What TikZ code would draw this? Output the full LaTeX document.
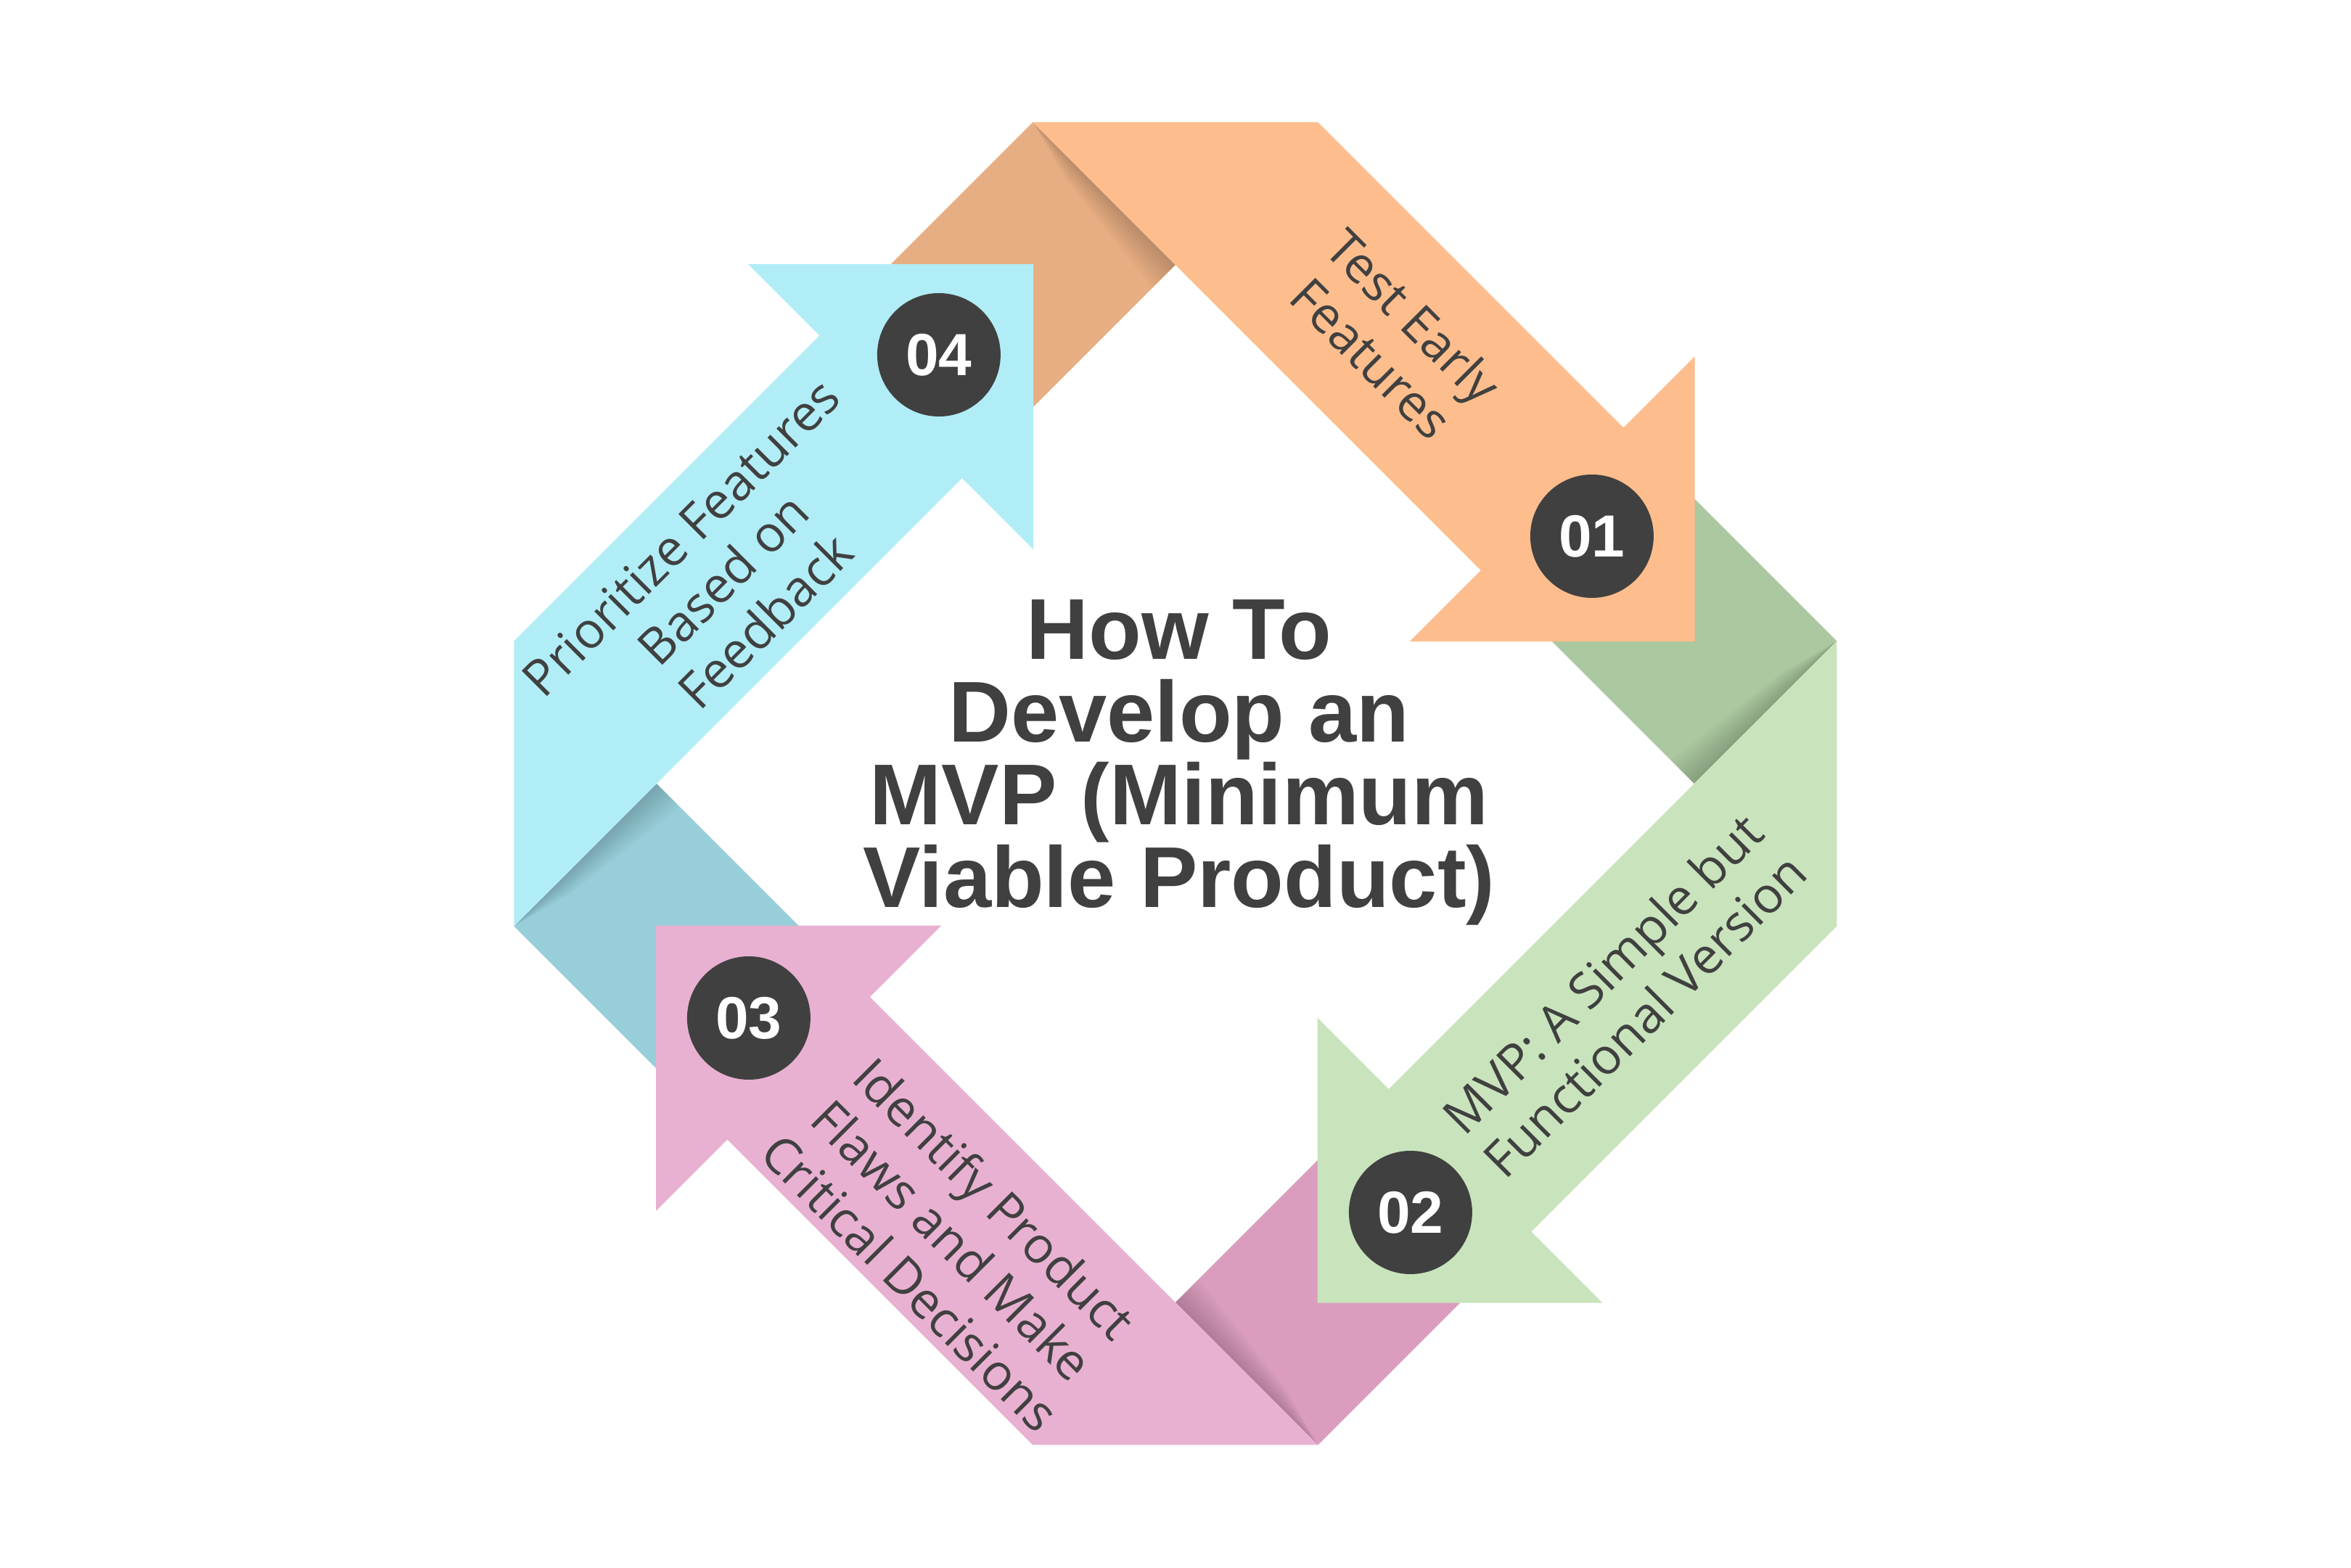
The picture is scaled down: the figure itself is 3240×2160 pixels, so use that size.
\documentclass[tikz,border=0pt]{standalone}
\usepackage{fontspec}
\setmainfont{Open Sans}
\newfontfamily\titlefont{Liberation Sans}
\definecolor{cO}{HTML}{FEBD8D}
\definecolor{cOd}{HTML}{E8AE83}
\definecolor{cG}{HTML}{C9E4BC}
\definecolor{cGd}{HTML}{ABC8A0}
\definecolor{cP}{HTML}{E8B1D1}
\definecolor{cPd}{HTML}{DA9DBE}
\definecolor{cB}{HTML}{B1EDF6}
\definecolor{cBd}{HTML}{97CED9}
\definecolor{ink}{HTML}{404040}
\def\pA{715}\def\pB{1108}\def\pH{196.5}\def\pC{911.5}\def\pW{393}\def\pT{520}\def\pS{127}
\begin{document}
\begin{tikzpicture}[x=0.1pt,y=-0.1pt,
  txt/.style={font=\fontsize{6.9}{8.2}\selectfont, text=ink, align=center, inner sep=0pt},
  num/.style={circle, fill=ink, minimum size=17pt, inner sep=0pt, text=white,
              font=\titlefont\bfseries\fontsize{8.2}{8.2}\selectfont},
  ttl/.style={font=\titlefont\bfseries\fontsize{11.9}{11.4}\selectfont, text=ink, inner sep=0pt, anchor=base},
  shadowc/.style={black, opacity=0.022}]
\useasboundingbox (0,0) rectangle (3240,2160);
\fill[white] (0,0) rectangle (3240,2160);
\begin{scope}[shift={(162pt,-108pt)}, x={(0.05pt,0.05pt)}, y={(0.05pt,-0.05pt)}]
  % folds
  \fill[cOd] ({\pA},{-\pB}) -- ({\pA},{-\pA}) -- ({\pA-\pW},{-\pA}) -- ({\pA-\pW},{-\pB}) -- cycle;
  \fill[cGd] ({\pB},{\pA}) -- ({\pA},{\pA}) -- ({\pA},{\pA-\pW}) -- ({\pB},{\pA-\pW}) -- cycle;
  \fill[cPd] ({-\pA},{\pB}) -- ({-\pA},{\pA}) -- ({-\pA+\pW},{\pA}) -- ({-\pA+\pW},{\pB}) -- cycle;
  \fill[cBd] ({-\pB},{-\pA}) -- ({-\pA},{-\pA}) -- ({-\pA},{-\pA+\pW}) -- ({-\pB},{-\pA+\pW}) -- cycle;
  % fold shadows
  \foreach \s in {8,16,...,64}{
    \fill[shadowc] ({\pA},{-\pB}) -- ({\pA},{-\pA}) -- ({\pA-\s},{-\pA}) -- ({\pA-0.5*\s},{-\pB+120}) -- cycle;
    \fill[shadowc] ({\pB},{\pA}) -- ({\pA},{\pA}) -- ({\pA},{\pA-\s}) -- ({\pB-120},{\pA-0.5*\s}) -- cycle;
    \fill[shadowc] ({-\pA},{\pB}) -- ({-\pA},{\pA}) -- ({-\pA+\s},{\pA}) -- ({-\pA+0.5*\s},{\pB-120}) -- cycle;
    \fill[shadowc] ({-\pB},{-\pA}) -- ({-\pA},{-\pA}) -- ({-\pA},{-\pA+\s}) -- ({-\pB+120},{-\pA+0.5*\s}) -- cycle;
  }
  % arrows
  \fill[cO] ({\pA},{-\pB}) -- ({\pB},{-\pA}) -- ({\pB},{\pS}) -- ({\pB+\pH},{\pS}) -- ({\pC},{\pT})
     -- ({\pA-\pH},{\pS}) -- ({\pA},{\pS}) -- ({\pA},{-\pA}) -- cycle;
  \fill[cG] ({\pB},{\pA}) -- ({\pA},{\pB}) -- ({-\pS},{\pB}) -- ({-\pS},{\pB+\pH}) -- ({-\pT},{\pC})
     -- ({-\pS},{\pA-\pH}) -- ({-\pS},{\pA}) -- ({\pA},{\pA}) -- cycle;
  \fill[cP] ({-\pA},{\pB}) -- ({-\pB},{\pA}) -- ({-\pB},{-\pS}) -- ({-\pB-\pH},{-\pS}) -- ({-\pC},{-\pT})
     -- ({-\pA+\pH},{-\pS}) -- ({-\pA},{-\pS}) -- ({-\pA},{\pA}) -- cycle;
  \fill[cB] ({-\pB},{-\pA}) -- ({-\pA},{-\pB}) -- ({\pS},{-\pB}) -- ({\pS},{-\pB-\pH}) -- ({\pT},{-\pC})
     -- ({\pS},{-\pA+\pH}) -- ({\pS},{-\pA}) -- ({-\pA},{-\pA}) -- cycle;
  % numbers
  \node[num] (n1) at (915,233) {01};
  \node[num] (n2) at (-267,915) {02};
  \node[num] (n3) at (-911,-265) {03};
  \node[num] (n4) at (265,-917) {04};
  % labels
  \node[txt, rotate=-45] (t1) at (915,-316) {Test Early\\Features};
  \node[txt, rotate=45] (t2) at (327,908) {MVP: A Simple but\\Functional Version};
  \node[txt, rotate=-45] (t3) at (-936,322) {Identify Product\\Flaws and Make\\Critical Decisions};
  \node[txt, rotate=45] (t4) at (-342,-905) {Prioritize Features\\Based on\\Feedback};
\end{scope}
% title
\node[ttl] (h1) at (1625,908) {How To};
\node[ttl] (h2) at (1625,1022) {Develop an};
\node[ttl] (h3) at (1625,1136) {MVP (Minimum};
\node[ttl] (h4) at (1625,1250) {Viable Product)};
\end{tikzpicture}
\end{document}
